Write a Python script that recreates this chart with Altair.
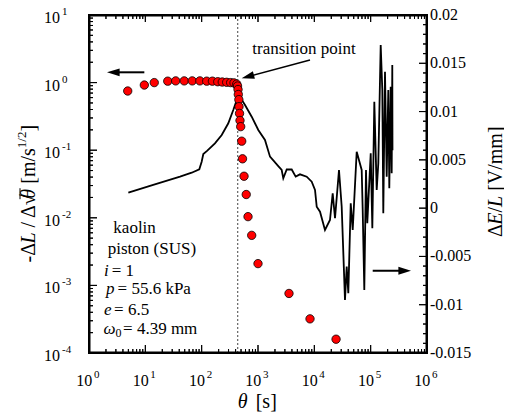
import altair as alt
import pandas as pd

SERIF = "Liberation Serif"
W, H = 338, 338

# ---- data ----
theta_pts = [4.87, 9.6, 14.4, 25, 34.6, 49, 68, 93, 123, 155, 193, 232, 278, 327, 375, 419,
             433, 442, 447, 457, 460, 470, 479, 493, 514, 531, 565, 618, 665, 773, 1000,
             3550, 8380, 24300]
rate_pts = [0.751, 0.92, 1.0, 1.05, 1.06, 1.06, 1.06, 1.06, 1.05, 1.05, 1.03, 1.02, 1.01, 1.0,
            0.99, 0.95, 0.89, 0.79, 0.667, 0.56, 0.44, 0.35, 0.275, 0.223, 0.136, 0.0746,
            0.0412, 0.0221, 0.0104, 0.0055, 0.0021, 7.6e-4, 3.2e-4, 1.6e-4]

theta_line = [4.99, 13.8, 41.3, 66.5, 90.8, 100, 107, 126, 172, 227, 297, 364, 419, 460, 588,
              773, 1012, 1330, 1633, 2291, 2634, 2812, 3234, 3965, 4667, 5566, 7325, 8985,
              10280, 11020, 12610, 15460, 18960, 21180, 23280, 27400, 30600, 35000, 37550,
              40100, 44250, 48000, 56500, 69300, 72200, 77100, 82600, 87100, 100200, 107000,
              116100, 128000, 136700, 150700, 161000, 167600, 179600, 192600, 205600, 214200,
              226800, 236100, 242000, 244000]
de_line = [0.0016, 0.0024, 0.00326, 0.00367, 0.00402, 0.00481, 0.00561, 0.00595, 0.00671,
           0.00757, 0.00879, 0.01016, 0.0112, 0.01166, 0.01068, 0.00947, 0.00809, 0.00706,
           0.00533, 0.00436, 0.00395, 0.00309, 0.0040, 0.0040, 0.00326, 0.0035, 0.00326,
           0.00274, 0.00188, 0.00015, -0.00037, -0.00226, -0.00123, 0.00154, -0.00105,
           0.00395, 0.00015, -0.00951, -0.00606, -0.00882, 0.0005, -0.00226, 0.00584,
           0.00395, -0.00019, -0.00848, 0.00395, -0.00157, 0.00568, -0.00209, 0.01102,
           0.00188, 0.00464, 0.01689, 0.01223, -0.00053, 0.01413, 0.00326, 0.01223,
           0.00205, 0.01258, 0.00361, 0.01482, 0.0060]

transition_theta = [437]

x_decades = [1, 10, 100, 1000, 1e4, 1e5, 1e6]
x_exps = ["0", "1", "2", "3", "4", "5", "6"]
y_decades = [1e-4, 1e-3, 1e-2, 1e-1, 1, 10]
y_exps = ["-4", "-3", "-2", "-1", "0", "1"]
right_ticks = [-0.015, -0.01, -0.005, 0, 0.005, 0.01, 0.015, 0.02]
right_labels = ["-0.015", "-0.01", "-0.005", "0", "0.005", "0.01", "0.015", "0.02"]

x_minor = [m * 10 ** k for k in range(0, 6) for m in range(2, 10)]
y_minor = [m * 10.0 ** k for k in range(-4, 1) for m in range(2, 10)]
right_minor = [round(-0.015 + 0.001 * i, 3) for i in range(36) if i % 5 != 0]

info_text = ["kaolin", "piston (SUS)"]
info_vars = ["i", "p", "e", "\u03c9"]
info_rest = ["= 1", "= 55.6 kPa", "= 6.5", "= 4.39 mm"]
info_y = [0.0070, 0.00342, 0.00165, 8.75e-4, 4.33e-4, 2.24e-4]

ARROW = "M0,-1L0.62,1L-0.62,1Z"

X_MIN, X_MAX = 1.0, 1e6
YL_MIN, YL_MAX = 1e-4, 10.0
YR_MIN, YR_MAX = -0.015, 0.02
xs = alt.Scale(type="log", domain=[X_MIN, X_MAX], nice=False)
yl = alt.Scale(type="log", domain=[YL_MIN, YL_MAX], nice=False)
yr = alt.Scale(type="linear", domain=[YR_MIN, YR_MAX], nice=False, zero=False)

PX_DEC_X = W / 6.0
PX_DEC_Y = H / 5.0
PX_UNIT_R = H / (YR_MAX - YR_MIN)


def fx(L):
    return 10 ** (L / PX_DEC_X)


def fy(L):
    return 10 ** (L / PX_DEC_Y)


# frame edges half a pixel inside the data rectangle
XL, XR = X_MIN * fx(0.5), X_MAX / fx(0.5)
YB, YT = YL_MIN * fy(0.5), YL_MAX / fy(0.5)
RB, RT = YR_MIN + 0.5 / PX_UNIT_R, YR_MAX - 0.5 / PX_UNIT_R

one = pd.DataFrame({"a": [0]})


def ptext(s, px, py, size=20, italic=False, angle=0, align="left", baseline="alphabetic"):
    kw = dict(font=SERIF, fontSize=size, align=align, baseline=baseline, color="black")
    if italic:
        kw["fontStyle"] = "italic"
    if angle:
        kw["angle"] = angle
    return alt.Chart(one).mark_text(**kw).encode(
        x=alt.value(px), y=alt.value(py), text=alt.value(s))


def dtext(s, xv, yv, dx=0, dy=0, size=17, italic=False, align="left"):
    kw = dict(font=SERIF, fontSize=size, align=align, baseline="middle", dx=dx, dy=dy,
              color="black")
    if italic:
        kw["fontStyle"] = "italic"
    return alt.Chart(pd.DataFrame({"x": [xv], "y": [yv], "t": [s]})).mark_text(**kw).encode(
        x=alt.X("x:Q", scale=xs, axis=None), y=alt.Y("y:Q", scale=yl, axis=None),
        text="t:N")


def seg_rule(segs, yscale, width=1):
    df = pd.DataFrame([{"x1": float(a[0]), "y1": float(a[1]), "x2": float(b[0]),
                        "y2": float(b[1])} for a, b in segs])
    return alt.Chart(df).mark_rule(color="black", strokeWidth=width).encode(
        x=alt.X("x1:Q", scale=xs, axis=None), x2="x2:Q",
        y=alt.Y("y1:Q", scale=yscale, axis=None), y2="y2:Q")


def path(points, yscale, width=1):
    df = pd.DataFrame({"k": list(range(len(points))),
                       "px": [float(p[0]) for p in points],
                       "py": [float(p[1]) for p in points]})
    return alt.Chart(df).mark_line(color="black", strokeWidth=width,
                                   strokeJoin="bevel").encode(
        x=alt.X("px:Q", scale=xs, axis=None), y=alt.Y("py:Q", scale=yscale, axis=None),
        order="k:Q")


# ---- frame and inward ticks drawn as single continuous paths ----
x_inner = [v for v in x_decades if X_MIN < v < X_MAX]
y_inner = [v for v in y_decades if YL_MIN < v < YL_MAX]
xt = sorted([(v, 8) for v in x_inner] + [(v, 4) for v in x_minor])
xt_top = sorted([(v, 7) for v in x_inner] + [(v, 4) for v in x_minor])
yt = sorted([(v, 8) for v in y_inner] + [(v, 4) for v in y_minor], reverse=True)

tick_pts = [(XL, YB)]
for v, L in xt:
    tick_pts += [(v, YB), (v, YL_MIN * fy(L)), (v, YB)]
tick_pts += [(XR, YB), (XR, YT)]
for v, L in reversed(xt_top):
    tick_pts += [(v, YT), (v, YL_MAX / fy(L)), (v, YT)]
tick_pts += [(XL, YT)]
for v, L in yt:
    tick_pts += [(XL, v), (X_MIN * fx(L), v), (XL, v)]
tick_pts += [(XL, YB)]
lticks = path(tick_pts, yl, 1)

frame = path([(XL, YB), (XR, YB), (XR, YT), (XL, YT), (XL, YB)], yl, 2)

r_inner = [v for v in right_ticks if YR_MIN < v < YR_MAX]
rt = sorted([(v, 8) for v in r_inner] + [(v, 4) for v in right_minor])
r_pts = [(XR, RB)]
for v, L in rt:
    r_pts += [(XR, v), (X_MAX / fx(L), v), (XR, v)]
r_pts += [(XR, RT)]
rticks = path(r_pts, yr, 1)

# ---- right-axis marks ----
line_df = pd.DataFrame({"theta": theta_line, "dE": de_line, "i": range(len(theta_line))})
line = alt.Chart(line_df).mark_line(color="black", strokeWidth=1.8).encode(
    x=alt.X("theta:Q", scale=xs, axis=None),
    y=alt.Y("dE:Q", scale=yr, axis=None),
    order="i:Q")

rlab = alt.Chart(pd.DataFrame({"v": right_ticks, "t": right_labels, "x": [X_MAX] * 8})).mark_text(
    font=SERIF, fontSize=16, align="left", baseline="middle", dx=3, color="black").encode(
    x=alt.X("x:Q", scale=xs, axis=None), y=alt.Y("v:Q", scale=yr, axis=None), text="t:N")

rarrow_line = seg_rule([((108700, -0.00648), (402000, -0.00648))], yr, 2)
rarrow_head = alt.Chart(pd.DataFrame({"x": [402000], "y": [-0.00648]})).mark_point(
    shape=ARROW, angle=90, size=160, filled=True, color="black", opacity=1).encode(
    x=alt.X("x:Q", scale=xs, axis=None), y=alt.Y("y:Q", scale=yr, axis=None))

# ---- left-axis marks ----
dotted = alt.Chart(pd.DataFrame({"t": transition_theta})).mark_rule(
    color="#444", strokeWidth=1, strokeDash=[2, 2]).encode(
    x=alt.X("t:Q", scale=xs, axis=None))

xlab_df = pd.DataFrame({"v": x_decades, "e": x_exps})
xlab_base = alt.Chart(xlab_df).mark_text(
    font=SERIF, fontSize=16, align="right", baseline="alphabetic", dx=3.3, color="black").encode(
    x=alt.X("v:Q", scale=xs, axis=None), y=alt.value(H + 33), text=alt.value("10"))
xlab_exp = alt.Chart(xlab_df).mark_text(
    font=SERIF, fontSize=11, align="left", baseline="alphabetic", dx=5, color="black").encode(
    x=alt.X("v:Q", scale=xs, axis=None), y=alt.value(H + 25), text="e:N")

ylab_df = pd.DataFrame({"v": y_decades, "e": y_exps})
ylab_base = alt.Chart(ylab_df).mark_text(
    font=SERIF, fontSize=16, align="left", baseline="alphabetic", dy=8, color="black").encode(
    y=alt.Y("v:Q", scale=yl, axis=None), x=alt.value(-45), text=alt.value("10"))
ylab_exp = alt.Chart(ylab_df).mark_text(
    font=SERIF, fontSize=11, align="left", baseline="alphabetic", dy=0, color="black").encode(
    y=alt.Y("v:Q", scale=yl, axis=None), x=alt.value(-27), text="e:N")

dots = alt.Chart(pd.DataFrame({"theta": theta_pts, "rate": rate_pts})).mark_circle(
    size=70, fill="#ff0000", stroke="black", strokeWidth=0.8, opacity=1).encode(
    x=alt.X("theta:Q", scale=xs, axis=None), y=alt.Y("rate:Q", scale=yl, axis=None))

larrow_line = seg_rule([((9.6, 1.42), (2.70, 1.42))], yl, 2)
larrow_head = alt.Chart(pd.DataFrame({"x": [2.70], "y": [1.42]})).mark_point(
    shape=ARROW, angle=270, size=160, filled=True, color="black", opacity=1).encode(
    x=alt.X("x:Q", scale=xs, axis=None), y=alt.Y("y:Q", scale=yl, axis=None))

tarrow_line = seg_rule([((8380, 2.16), (659, 1.223))], yl, 1.5)
tarrow_head = alt.Chart(pd.DataFrame({"x": [659], "y": [1.223]})).mark_point(
    shape=ARROW, angle=255, size=160, filled=True, color="black", opacity=1).encode(
    x=alt.X("x:Q", scale=xs, axis=None), y=alt.Y("y:Q", scale=yl, axis=None))

trans_text = dtext("transition point", 6560, 3.14, size=17, align="center")

XA = 1.85
info = [
    dtext(info_text[0], XA, info_y[0], dx=9.3),
    dtext(info_text[1], XA, info_y[1], dx=3.7),
    dtext(info_vars[0], XA, info_y[2], dx=0, italic=True),
    dtext(info_rest[0], XA, info_y[2], dx=7.7),
    dtext(info_vars[1], XA, info_y[3], dx=2.0, italic=True),
    dtext(info_rest[1], XA, info_y[3], dx=13.5),
    dtext(info_vars[2], XA, info_y[4], dx=0, italic=True),
    dtext(info_rest[2], XA, info_y[4], dx=10),
    dtext(info_vars[3], XA, info_y[5], dx=-0.5, italic=True),
    dtext("0", XA, info_y[5], dx=11.5, dy=4, size=12),
    dtext(info_rest[3], XA, info_y[5], dx=19),
]

# ---- titles ----
x_title = [ptext("\u03b8", 148.7, 393, italic=True), ptext("[s]", 166.7, 393)]

lt_segments = [("-\u0394", False, 20, 0.945, 0), ("L", True, 20, 0.556 + 0.25, 0),
               ("/ \u0394\u221a", False, 20, 1.439, 0), ("\u03b8", True, 20, 0.5 + 0.25, 0),
               ("[m/s", False, 20, 1.778, 0), ("1/2", False, 13, 1.278, -7),
               ("]", False, 20, 0.333, 0)]
LT_X, pos = -60, 247.5
left_title = []
theta_top = theta_bot = 0
for s, it, sz, w, off in lt_segments:
    left_title.append(ptext(s, LT_X + off, pos, size=sz, italic=it, angle=270,
                            baseline="middle"))
    if s == "\u03b8":
        theta_top, theta_bot = pos - 0.5 * sz, pos
    pos -= w * sz
overline = alt.Chart(one).mark_rule(color="black", strokeWidth=1).encode(
    x=alt.value(LT_X - 9), y=alt.value(theta_bot + 0.5), y2=alt.value(theta_top - 0.5))

rt_segments = [("\u0394", False, 0.612), ("E", True, 0.611), ("/", False, 0.278),
               ("L", True, 0.556 + 0.25), ("[V/mm]", False, 3.222)]
RT_X, pos = 407, 222
right_title = []
for s, it, w in rt_segments:
    right_title.append(ptext(s, RT_X, pos, size=20, italic=it, angle=270, baseline="middle"))
    pos -= w * 20

layers = [line, rticks, rlab, rarrow_line, rarrow_head,
          dotted, lticks, xlab_base, xlab_exp, ylab_base, ylab_exp,
          dots, larrow_line, larrow_head, tarrow_line, tarrow_head, trans_text,
          *info, *x_title, *left_title, overline, *right_title, frame]

chart = alt.layer(*layers).resolve_scale(y="independent").properties(
    width=W, height=H,
    padding={"left": 81, "top": 7, "right": 77, "bottom": 60},
    autosize=alt.AutoSizeParams(type="none"),
).configure_view(stroke="black", strokeWidth=2)

chart.save("out.html", embed_options={"renderer": "svg", "actions": False})
